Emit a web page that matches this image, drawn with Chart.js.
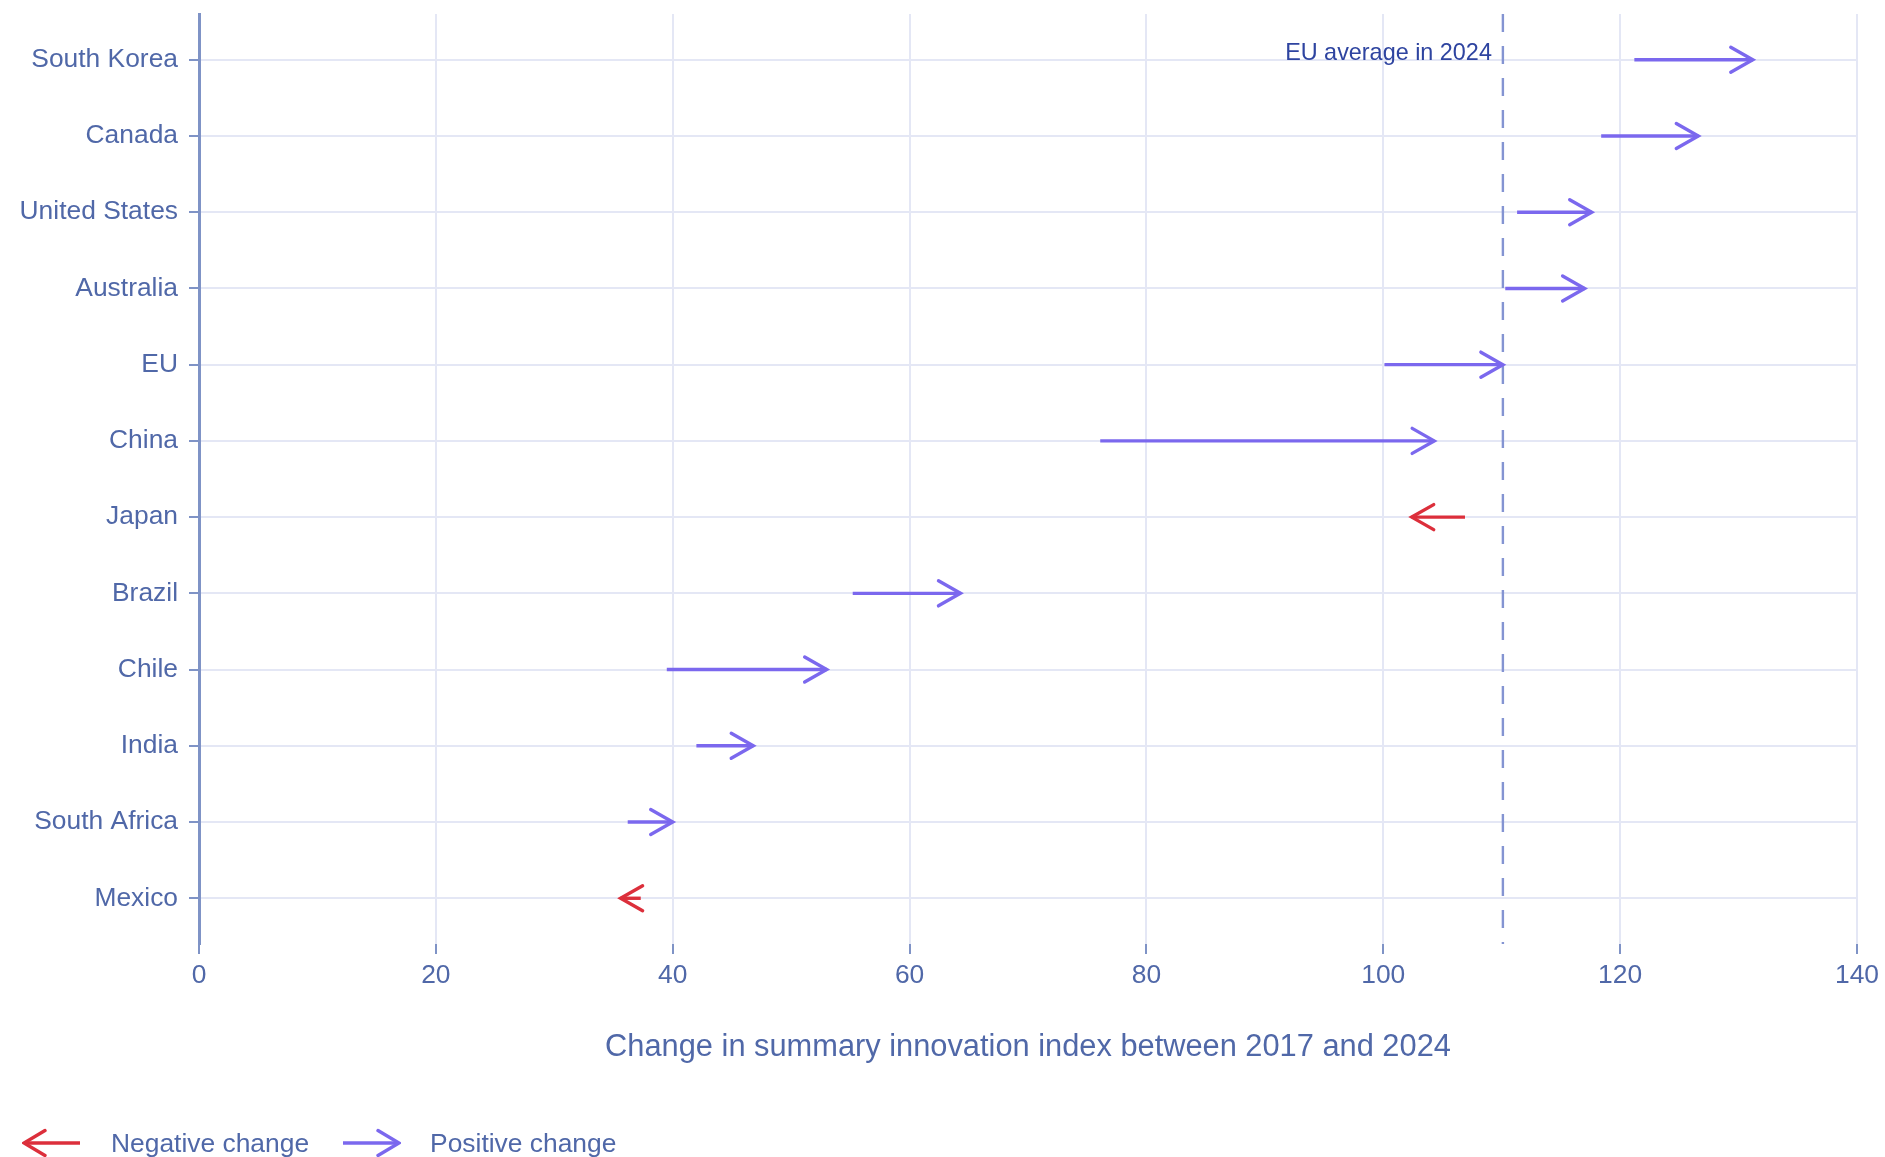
<!DOCTYPE html>
<html>
<head>
<meta charset="utf-8">
<title>Change in summary innovation index</title>
<script src="https://cdn.jsdelivr.net/npm/chart.js@4.4.1/dist/chart.umd.min.js"></script>
<style>
    html, body { margin: 0; padding: 0; background: #fff; overflow: hidden; }
    .wrap { position: relative; width: 1885px; height: 1157px; }
    .legend {
        position: absolute; left: 22px; top: 1126px; height: 34px;
        display: flex; align-items: center;
        font: 26.4px 'Liberation Sans', Arial, sans-serif; color: #5068a8;
    }
    .legend svg { display: block; }
    .legend span { margin-left: 29px; margin-right: 32px; }
</style>
</head>
<body>
<div class="wrap">
    <canvas id="chart" width="1885" height="1157"></canvas>
    <div class="legend" data-legend></div>
</div>
<script>
const countries = ['South Korea', 'Canada', 'United States', 'Australia', 'EU', 'China', 'Japan', 'Brazil', 'Chile', 'India', 'South Africa', 'Mexico'];
const index2017 = [121.2, 118.4, 111.3, 110.3, 100.1, 76.1, 106.9, 55.2, 39.5, 42.0, 36.2, 37.3];
const index2024 = [131.2, 126.6, 117.6, 117.0, 110.1, 104.3, 102.4, 64.3, 53.0, 46.8, 40.0, 35.6];
const euAverage2024 = 110.1;
const xTicks = [0, 20, 40, 60, 80, 100, 120, 140];
const legendItems = ['Negative change', 'Positive change'];

const RED = '#dc2f3b';
const PURPLE = '#7b68ee';
const TEXT = '#5068a8';
const AXIS = '#7f93c6';
const GRID = '#e4e7f5';
const font = { family: "'Liberation Sans', Arial, sans-serif", size: 26.4 };

const colorFor = (i) => (index2024[i] < index2017[i] ? RED : PURPLE);

const datasets = countries.map((name, i) => ({
    label: name,
    data: [{ x: index2017[i], y: i }, { x: index2024[i], y: i }],
    showLine: true,
    borderColor: colorFor(i),
    borderWidth: 3.4,
    pointRadius: 0,
}));

datasets.push({
    label: 'EU average in 2024',
    data: [{ x: euAverage2024, y: -0.6 }, { x: euAverage2024, y: 11.6 }],
    showLine: true,
    borderColor: '#8494d2',
    borderWidth: 2.4,
    borderDash: [18, 14],
    pointRadius: 0,
});

const arrowHeads = {
    id: 'arrowHeads',
    afterDatasetsDraw(chart) {
        const { ctx, scales: { x, y } } = chart;
        ctx.save();
        ctx.lineWidth = 3.4;
        ctx.lineCap = 'round';
        ctx.lineJoin = 'miter';
        countries.forEach((name, i) => {
            const tip = x.getPixelForValue(index2024[i]);
            const py = y.getPixelForValue(i);
            const dir = index2024[i] < index2017[i] ? 1 : -1;
            ctx.strokeStyle = colorFor(i);
            ctx.beginPath();
            ctx.moveTo(tip + dir * 22, py - 12.5);
            ctx.lineTo(tip, py);
            ctx.lineTo(tip + dir * 22, py + 12.5);
            ctx.stroke();
        });

        // label next to the reference line
        ctx.font = `23.4px ${font.family}`;
        ctx.fillStyle = '#2e44a0';
        ctx.textAlign = 'right';
        ctx.textBaseline = 'middle';
        ctx.fillText('EU average in 2024', x.getPixelForValue(euAverage2024) - 11, y.getPixelForValue(0) - 6);
        ctx.restore();
    },
};

new Chart(document.getElementById('chart'), {
    type: 'scatter',
    data: { datasets },
    plugins: [arrowHeads],
    options: {
        responsive: false,
        animation: false,
        layout: { padding: { left: 0, right: 28, top: 14, bottom: 91.5 } },
        plugins: {
            legend: { display: false },
            tooltip: { enabled: false },
        },
        scales: {
            x: {
                type: 'linear',
                min: 0,
                max: 140,
                afterBuildTicks: (scale) => { scale.ticks = xTicks.map((value) => ({ value })); },
                afterFit: (scale) => { scale.height = 121.5; },
                border: { display: false },
                grid: { color: GRID, lineWidth: 2, tickColor: AXIS, tickLength: 10, tickWidth: 2 },
                ticks: { color: TEXT, font, padding: 6, maxRotation: 0 },
                title: {
                    display: true,
                    text: 'Change in summary innovation index between 2017 and 2024',
                    color: TEXT,
                    font: { family: font.family, size: 30.8 },
                    padding: { top: 0, bottom: 0 },
                },
            },
            y: {
                type: 'linear',
                reverse: true,
                min: -0.6,
                max: 11.6,
                afterBuildTicks: (scale) => { scale.ticks = countries.map((name, i) => ({ value: i })); },
                afterFit: (scale) => {
                    scale.width = 199;
                    scale.paddingTop = 0;
                    scale.paddingBottom = 0;
                },
                border: { display: true, color: AXIS, width: 3 },
                grid: { color: GRID, lineWidth: 2, tickColor: AXIS, tickLength: 10, tickWidth: 2 },
                ticks: {
                    color: TEXT,
                    font,
                    padding: 11,
                    autoSkip: false,
                    callback: (value) => countries[value],
                },
            },
        },
    },
});

const legend = document.querySelector('[data-legend]');
legendItems.forEach((text, i) => {
    const color = i === 0 ? RED : PURPLE;
    const head = i === 0 ? 'M23 4.5 L2 17 L23 29.5' : 'M37 4.5 L58 17 L37 29.5';
    legend.insertAdjacentHTML('beforeend', `
        <svg width="60" height="34" viewBox="0 0 60 34">
            <line x1="2" y1="17" x2="58" y2="17" stroke="${color}" stroke-width="3.4"/>
            <path d="${head}" fill="none" stroke="${color}" stroke-width="3.4" stroke-linecap="round"/>
        </svg>
        <span>${text}</span>
    `);
});
</script>
</body>
</html>
